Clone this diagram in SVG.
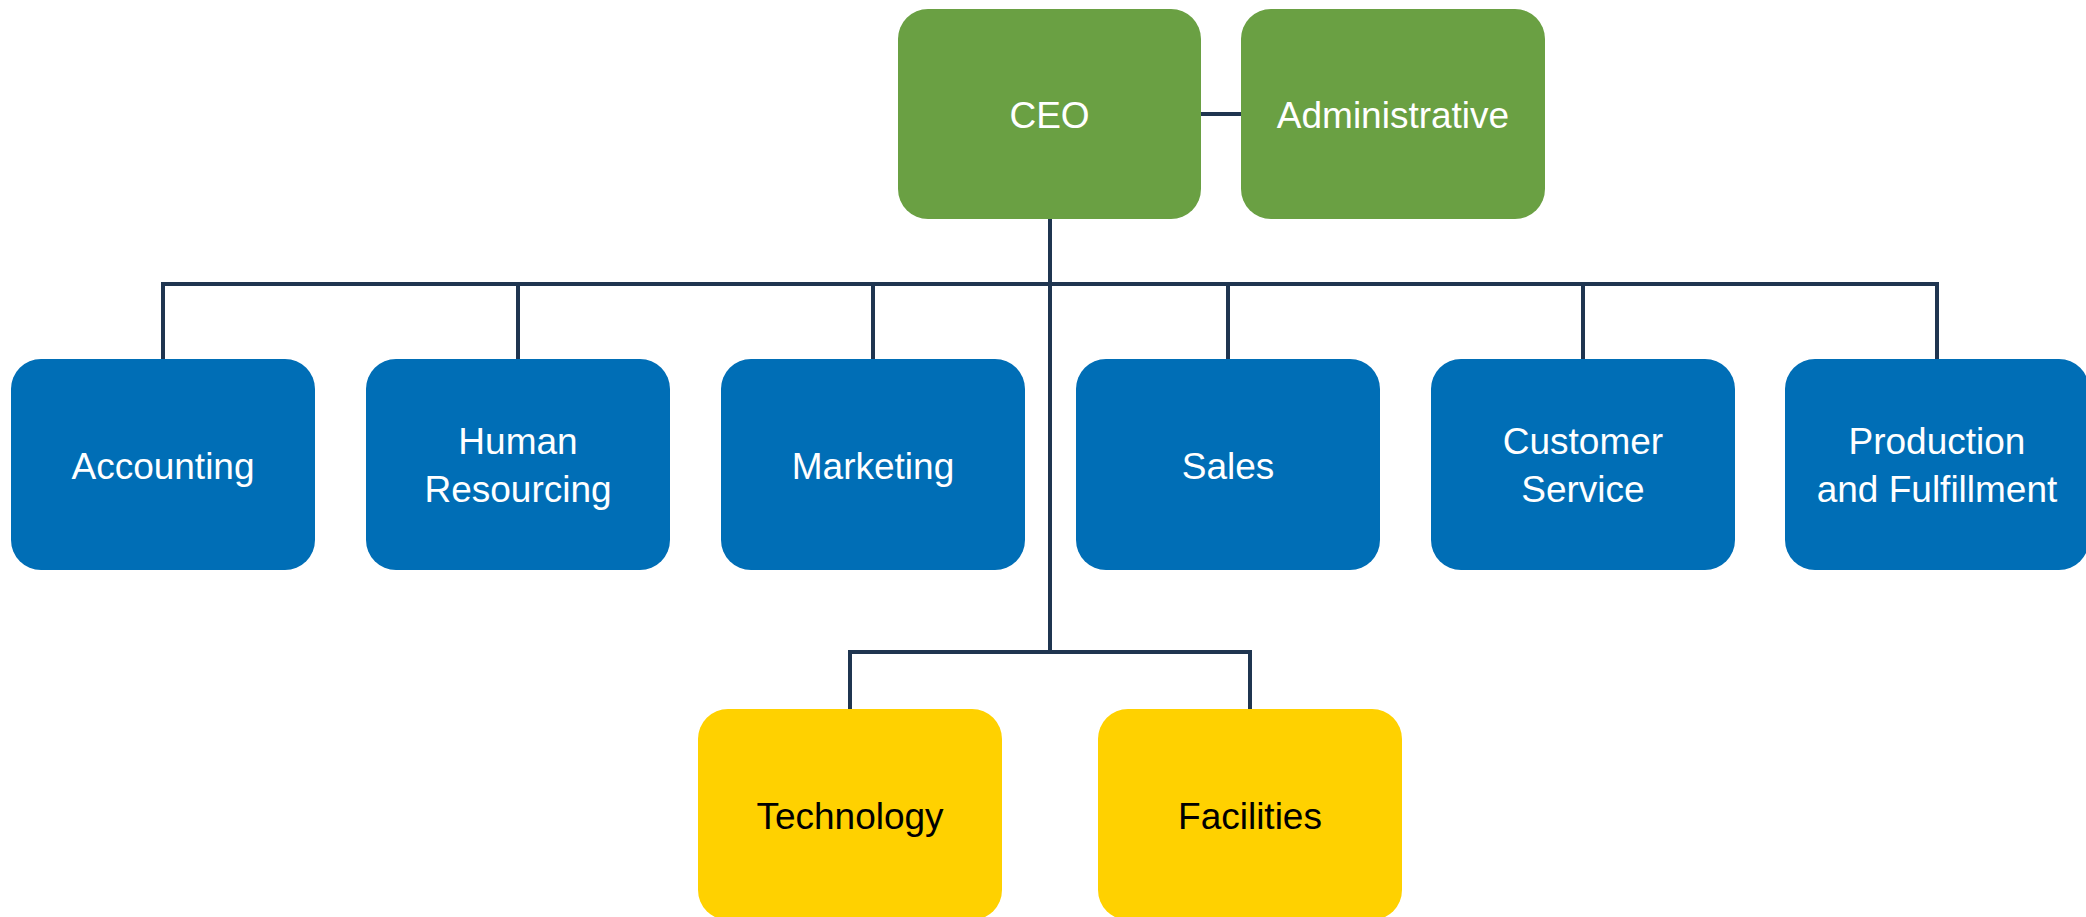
<svg xmlns="http://www.w3.org/2000/svg" width="2086" height="917" viewBox="0 0 2086 917">
<style>
.box{rx:30px;ry:30px;}
.g{fill:#6AA043;}
.b{fill:#006EB6;}
.y{fill:#FFD100;}
.t{font-family:"Liberation Sans",Arial,sans-serif;font-size:37px;text-anchor:middle;fill:#FFFFFF;}
.tk{fill:#000000;}
.ln{stroke:#1F3550;stroke-width:4;fill:none;stroke-linecap:square;}
</style>
<rect width="2086" height="917" fill="#FFFFFF"/>
<g id="connectors" class="ln">
<line x1="1201" y1="114" x2="1241" y2="114"/>
<line x1="1050" y1="219" x2="1050" y2="652"/>
<line x1="163" y1="284" x2="1937" y2="284"/>
<line x1="163" y1="284" x2="163" y2="359"/>
<line x1="518" y1="284" x2="518" y2="359"/>
<line x1="873" y1="284" x2="873" y2="359"/>
<line x1="1228" y1="284" x2="1228" y2="359"/>
<line x1="1583" y1="284" x2="1583" y2="359"/>
<line x1="1937" y1="284" x2="1937" y2="359"/>
<line x1="850" y1="652" x2="1250" y2="652"/>
<line x1="850" y1="652" x2="850" y2="709"/>
<line x1="1250" y1="652" x2="1250" y2="709"/>
</g>
<g id="ceo"><rect class="box g" x="898" y="9" width="303" height="210"/><text class="t" x="1049.5" y="128">CEO</text></g>
<g id="administrative"><rect class="box g" x="1241" y="9" width="304" height="210"/><text class="t" x="1393" y="128">Administrative</text></g>
<g id="accounting"><rect class="box b" x="11" y="359" width="304" height="211"/><text class="t" x="163" y="479">Accounting</text></g>
<g id="human-resourcing"><rect class="box b" x="366" y="359" width="304" height="211"/><text class="t" x="518" y="454">Human</text><text class="t" x="518" y="502">Resourcing</text></g>
<g id="marketing"><rect class="box b" x="721" y="359" width="304" height="211"/><text class="t" x="873" y="479">Marketing</text></g>
<g id="sales"><rect class="box b" x="1076" y="359" width="304" height="211"/><text class="t" x="1228" y="479">Sales</text></g>
<g id="customer-service"><rect class="box b" x="1431" y="359" width="304" height="211"/><text class="t" x="1583" y="454">Customer</text><text class="t" x="1583" y="502">Service</text></g>
<g id="production"><rect class="box b" x="1785" y="359" width="304" height="211"/><text class="t" x="1937" y="454">Production</text><text class="t" x="1937" y="502">and Fulfillment</text></g>
<g id="technology"><rect class="box y" x="698" y="709" width="304" height="211"/><text class="t tk" x="850" y="829">Technology</text></g>
<g id="facilities"><rect class="box y" x="1098" y="709" width="304" height="211"/><text class="t tk" x="1250" y="829">Facilities</text></g>
</svg>
